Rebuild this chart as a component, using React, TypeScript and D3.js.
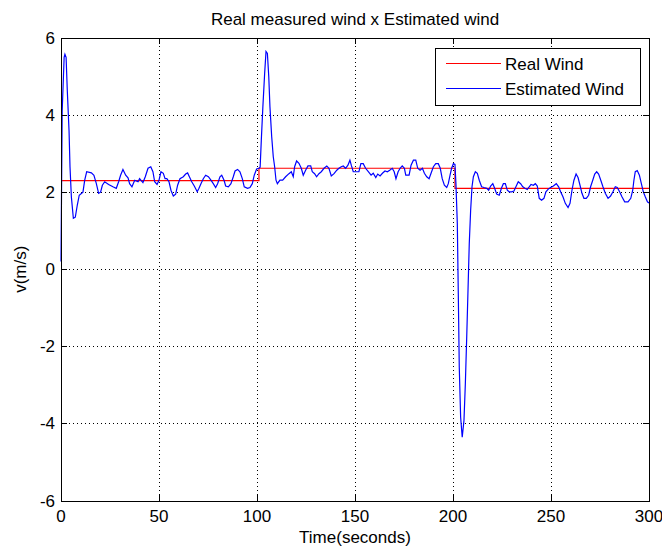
import React from "react";
import * as d3 from "d3";

const title = "Real measured wind x Estimated wind";
const xLabel = "Time(seconds)";
const yLabel = "v(m/s)";
const xTicks = [0, 50, 100, 150, 200, 250, 300];
const yTicks = [-6, -4, -2, 0, 2, 4, 6];
const seriesNames = ["Real Wind", "Estimated Wind"];
const seriesColors = ["#ff0000", "#0000ff"];

// Real wind: piecewise constant steps
const realTime = [0, 101, 101, 201, 201, 300];
const realWind = [2.3, 2.3, 2.62, 2.62, 2.1, 2.1];

// Estimated wind
const estTime = [
  0, 0.6, 1.6, 2.0, 2.6, 3.2, 4.1, 4.6, 5.3, 6.3, 7.3, 8.3, 9.3, 11.2, 12.1, 13.1, 15.5, 16.8, 18, 19.2,
  20.2, 21.1, 22.3, 24.3, 26.5, 28.2, 29.4, 30.4, 31.6, 33, 34.2, 35, 36.2, 37.6, 39.3, 40.1, 41.8, 43, 44.4, 45.8,
  46.9, 47.8, 49, 50, 51, 52.2, 53.1, 54, 55.1, 56.1, 57.3, 58.5, 59.5, 60.7, 62.4, 63.6, 64.6, 65.5, 66.7, 68,
  69.5, 70.4, 71.4, 72.6, 73.8, 75.2, 76.5, 77.7, 78.9, 79.9, 81.1, 82, 83.2, 84, 85.4, 86.7, 87.9, 88.8, 90.1, 91.3,
  92.5, 93.5, 95.2, 96.4, 97.6, 98.6, 99.8, 101, 101.6, 102.2, 103, 103.9, 104.6, 105.3, 106, 106.6, 107.5, 108.3, 109, 109.7,
  110.4, 111.7, 113.1, 114.6, 116.3, 117.5, 118.5, 119.2, 120.2, 121.4, 122.6, 123.6, 124.8, 126, 127.4, 128.2, 129.4, 130.4, 131.6, 132.8,
  134.2, 135.6, 136.7, 137.9, 139.3, 140.7, 141.8, 143, 144, 145.2, 146.4, 147.4, 148.1, 149.1, 150.3, 152, 153, 154.2, 155.4, 156.8,
  158.2, 159.3, 160.6, 161.6, 162.8, 164, 165.3, 166.5, 167.7, 169, 170, 170.9, 172, 173, 174.1, 175.2, 175.9, 177.6, 178.6, 179.8,
  181, 182, 183.2, 184.4, 185.4, 186.6, 187.8, 188.8, 190, 191.2, 192.5, 193.5, 194.5, 195.6, 196.8, 197.6, 198.5, 199.3, 200.2, 201,
  201.5, 202.2, 202.7, 203.2, 203.9, 204.7, 205.6, 206.3, 207, 207.7, 208.3, 209, 209.7, 210.4, 211.4, 212.4, 213.4, 214.6, 215.8, 217.2,
  218.2, 219.2, 220.3, 221.1, 222.3, 223.6, 224.7, 225.7, 226.7, 227.7, 228.7, 229.9, 231.1, 232.1, 233.3, 234.5, 235.6, 236.7, 237.9, 238.9,
  239.8, 241, 242, 243, 244, 245.2, 246.4, 247.4, 248.6, 249.8, 251.2, 252.7, 253.9, 254.9, 256.1, 257.3, 258.7, 259.7, 260.7, 261.7,
  262.8, 263.8, 264.8, 265.8, 266.8, 268, 269.2, 270.2, 271.3, 272.3, 273.3, 274.3, 275.4, 276.5, 277.7, 279.1, 280.4, 281.6, 282.8, 283.8,
  285, 286.2, 287.6, 289.3, 290.7, 291.7, 292.3, 293, 294, 295.1, 296.1, 297.1, 298.1, 299.2, 300,
];
const estWind = [
  0.2, 4.1, 5.5, 5.58, 5.5, 4.65, 3.6, 2.65, 1.87, 1.32, 1.35, 1.66, 1.92, 2.0, 2.31, 2.53, 2.5, 2.44, 2.23, 1.97,
  2.0, 2.18, 2.27, 2.2, 2.14, 2.1, 2.27, 2.44, 2.59, 2.44, 2.37, 2.22, 2.14, 2.31, 2.27, 2.35, 2.25, 2.4, 2.62, 2.66,
  2.53, 2.27, 2.2, 2.31, 2.53, 2.49, 2.35, 2.35, 2.27, 2.05, 1.9, 1.95, 2.18, 2.35, 2.4, 2.47, 2.5, 2.4, 2.27, 2.16,
  2.01, 2.1, 2.22, 2.35, 2.44, 2.4, 2.31, 2.22, 2.12, 2.22, 2.4, 2.44, 2.31, 2.16, 2.14, 2.22, 2.4, 2.55, 2.59, 2.53,
  2.35, 2.14, 2.1, 2.12, 2.22, 2.44, 2.6, 2.62, 2.65, 3.35, 4.22, 5.08, 5.65, 5.6, 5.0, 4.22, 3.44, 2.92, 2.66, 2.31,
  2.22, 2.31, 2.31, 2.4, 2.48, 2.53, 2.4, 2.66, 2.81, 2.75, 2.62, 2.44, 2.57, 2.68, 2.68, 2.53, 2.48, 2.4, 2.48, 2.53,
  2.62, 2.68, 2.62, 2.42, 2.48, 2.57, 2.62, 2.66, 2.68, 2.62, 2.7, 2.83, 2.7, 2.53, 2.53, 2.53, 2.74, 2.74, 2.62, 2.53,
  2.44, 2.49, 2.38, 2.47, 2.42, 2.49, 2.55, 2.53, 2.57, 2.62, 2.53, 2.35, 2.53, 2.62, 2.68, 2.62, 2.44, 2.44, 2.7, 2.83,
  2.83, 2.62, 2.57, 2.62, 2.49, 2.4, 2.35, 2.49, 2.66, 2.74, 2.74, 2.62, 2.35, 2.18, 2.12, 2.22, 2.44, 2.62, 2.74, 2.72,
  2.22, 1.19, -0.63, -2.54, -3.84, -4.36, -3.92, -2.97, -1.76, -0.46, 0.67, 1.53, 2.14, 2.4, 2.53, 2.49, 2.31, 2.14, 2.12, 2.1,
  2.05, 2.16, 2.22, 2.12, 1.95, 1.92, 2.1, 2.22, 2.22, 2.05, 2.01, 2.01, 2.03, 2.14, 2.27, 2.22, 2.14, 2.1, 2.07, 2.14,
  2.2, 2.18, 2.22, 2.16, 1.84, 1.79, 1.84, 2.01, 2.08, 2.12, 2.16, 2.22, 2.14, 2.01, 1.88, 1.71, 1.6, 1.71, 2.05, 2.31,
  2.47, 2.38, 2.18, 1.97, 1.84, 1.84, 1.92, 2.14, 2.31, 2.47, 2.53, 2.47, 2.31, 2.14, 1.97, 1.84, 1.9, 2.01, 2.14, 2.12,
  2.01, 1.88, 1.75, 1.75, 1.84, 2.05, 2.31, 2.53, 2.56, 2.44, 2.22, 2.01, 1.88, 1.75, 1.72,
];

const W = 662;
const H = 550;
const plot = { left: 61, right: 649, top: 38, bottom: 500.5 };
const FONT = "'Liberation Sans', Arial, Helvetica, sans-serif";

export default function App() {
  const x = d3.scaleLinear().domain([0, 300]).range([plot.left, plot.right]);
  const y = d3.scaleLinear().domain([-6, 6]).range([plot.bottom, plot.top]);

  const line = d3
    .line<[number, number]>()
    .x((d) => x(d[0]))
    .y((d) => y(d[1]));

  const realPts: [number, number][] = realTime.map((t, i) => [t, realWind[i]]);
  const estPts: [number, number][] = estTime.map((t, i) => [t, estWind[i]]);

  const tickLen = 6;
  const legend = { x: 435, y: 48, w: 205, h: 57 };

  return (
    <svg
      width={W}
      height={H}
      style={{ position: "absolute", left: 0, top: 0, background: "#fff", fontFamily: FONT }}
    >
      <rect x={0} y={0} width={W} height={H} fill="#fff" />
      <text x={(plot.left + plot.right) / 2} y={25} textAnchor="middle" fontSize={17} fill="#000">
        {title}
      </text>

      {/* grid */}
      <g stroke="#000" strokeWidth={1} strokeDasharray="1,3" shapeRendering="crispEdges">
        {xTicks.slice(1, -1).map((t) => (
          <line key={"gx" + t} x1={Math.round(x(t)) + 0.5} x2={Math.round(x(t)) + 0.5} y1={plot.top} y2={plot.bottom} />
        ))}
        {yTicks.slice(1, -1).map((v) => (
          <line key={"gy" + v} x1={plot.left} x2={plot.right} y1={Math.round(y(v)) + 0.5} y2={Math.round(y(v)) + 0.5} />
        ))}
      </g>

      {/* data */}
      <path d={line(realPts) || ""} fill="none" stroke={seriesColors[0]} strokeWidth={1.2} />
      <path d={line(estPts) || ""} fill="none" stroke={seriesColors[1]} strokeWidth={1.2} />

      {/* ticks */}
      <g stroke="#000" strokeWidth={1} shapeRendering="crispEdges">
        {xTicks.map((t) => (
          <g key={"tx" + t}>
            <line x1={Math.round(x(t)) + 0.5} x2={Math.round(x(t)) + 0.5} y1={plot.bottom} y2={plot.bottom - tickLen} />
            <line x1={Math.round(x(t)) + 0.5} x2={Math.round(x(t)) + 0.5} y1={plot.top} y2={plot.top + tickLen} />
          </g>
        ))}
        {yTicks.map((v) => (
          <g key={"ty" + v}>
            <line x1={plot.left} x2={plot.left + tickLen} y1={Math.round(y(v)) + 0.5} y2={Math.round(y(v)) + 0.5} />
            <line x1={plot.right} x2={plot.right - tickLen} y1={Math.round(y(v)) + 0.5} y2={Math.round(y(v)) + 0.5} />
          </g>
        ))}
        <rect
          x={plot.left + 0.5}
          y={plot.top + 0.5}
          width={plot.right - plot.left}
          height={plot.bottom - plot.top}
          fill="none"
        />
      </g>

      {/* tick labels */}
      <g fontSize={17} fill="#000">
        {xTicks.map((t) => (
          <text key={"lx" + t} x={x(t)} y={522} textAnchor="middle">
            {t}
          </text>
        ))}
        {yTicks.map((v) => (
          <text key={"ly" + v} x={plot.left - 6} y={y(v) + 6} textAnchor="end">
            {v}
          </text>
        ))}
      </g>

      <text x={(plot.left + plot.right) / 2} y={543} textAnchor="middle" fontSize={17} fill="#000">
        {xLabel}
      </text>
      <text
        transform={`translate(26, ${(plot.top + plot.bottom) / 2}) rotate(-90)`}
        textAnchor="middle"
        fontSize={17}
        fill="#000"
      >
        {yLabel}
      </text>

      {/* legend */}
      <rect
        x={legend.x + 0.5}
        y={legend.y + 0.5}
        width={legend.w}
        height={legend.h}
        fill="#fff"
        stroke="#000"
        strokeWidth={1}
        shapeRendering="crispEdges"
      />
      {seriesNames.map((name, i) => (
        <g key={name}>
          <line
            x1={446}
            x2={501}
            y1={legend.y + 15.5 + i * 25}
            y2={legend.y + 15.5 + i * 25}
            stroke={seriesColors[i]}
            strokeWidth={1.2}
          />
          <text x={505} y={legend.y + 21.5 + i * 25} fontSize={17} fill="#000">
            {name}
          </text>
        </g>
      ))}
    </svg>
  );
}
